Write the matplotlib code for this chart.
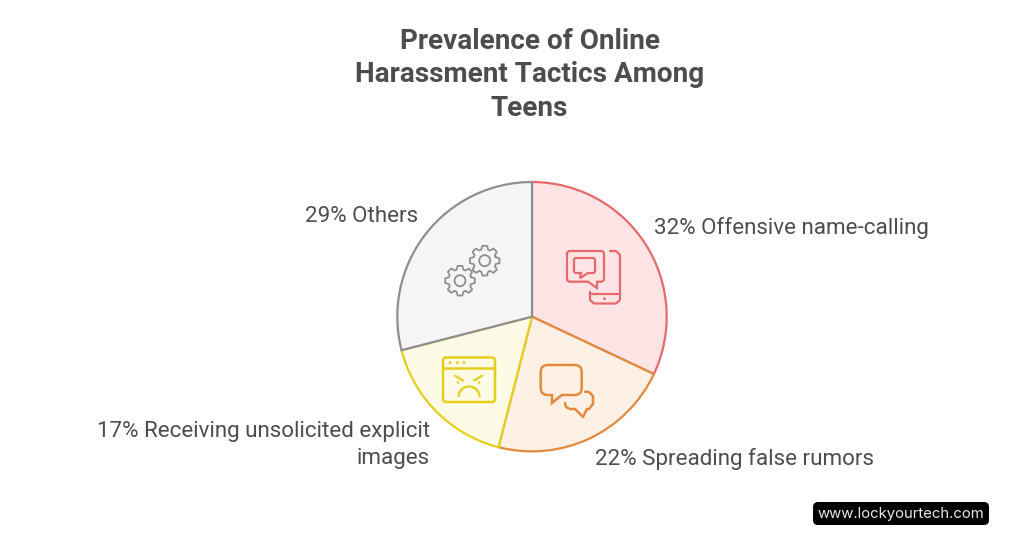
import matplotlib
matplotlib.use("Agg")
import matplotlib.pyplot as plt
from matplotlib.patches import FancyBboxPatch, Circle, Arc, PathPatch
from matplotlib.path import Path
import numpy as np

# Values
categories = ["Offensive name-calling", "Spreading false rumors",
              "Receiving unsolicited explicit\nimages", "Others"]
shares = [32, 22, 17, 29]
fills = ["#fee4e4", "#fdf0e4", "#fdfbe6", "#f5f5f5"]
edges = ["#e8696b", "#e38a3c", "#e6cf1c", "#8f8f8f"]
title = "Prevalence of Online\nHarassment Tactics Among\nTeens"
text_col = "#4d4d4d"

plt.rcParams["font.family"] = ["Roboto", "DejaVu Sans"]

W, H = 1024, 536
fig = plt.figure(figsize=(W / 100, H / 100), dpi=100)
ax = fig.add_axes([0, 0, 1, 1])


def Y(y):
    return H - y


wedges, _ = ax.pie(shares, center=(532, Y(316.7)), radius=134.7, startangle=90,
                   counterclock=False, colors=fills, frame=True)
for w, e in zip(wedges, edges):
    w.set_edgecolor(e)
    w.set_linewidth(1.6)
ax.set_xlim(0, W)
ax.set_ylim(0, H)
ax.axis("off")

ax.text(529.5, Y(75), title, ha="center", va="center", fontsize=20.1, fontweight="bold",
        color=text_col, linespacing=1.3)

# labels
label_spots = [(654, 228, "left"), (595, 459, "left"), (430, 445, "right"), (418, 217, "right")]
for (x, y, ha), share, cat in zip(label_spots, shares, categories):
    ax.text(x, Y(y), f"{share}% {cat}", ha=ha, va="center", fontsize=16.15,
            color=text_col, linespacing=1.4, multialignment=ha)


def rbox(x0, y0, x1, y1, r, color, lw=1.6, fc="none"):
    ax.add_patch(FancyBboxPatch((x0 + r, Y(y1) + r), x1 - x0 - 2 * r, y1 - y0 - 2 * r,
                                boxstyle=f"round,pad={r},rounding_size={r}",
                                fc=fc, ec=color, lw=lw))


def stroke(pts, color, lw=1.6):
    xs, ys = zip(*pts)
    ax.plot(xs, [Y(v) for v in ys], color=color, lw=lw, solid_capstyle="round",
            solid_joinstyle="round")


def bubble(x0, y0, x1, y1, r, tail, color, lw=1.6):
    # rounded speech bubble, tail = three points on the bottom edge
    verts = [(x0 + r, y0), (x1 - r, y0), (x1, y0), (x1, y0 + r), (x1, y1 - r), (x1, y1), (x1 - r, y1),
             tail[0], tail[1], tail[2], (x0 + r, y1), (x0, y1), (x0, y1 - r), (x0, y0 + r), (x0, y0), (x0 + r, y0)]
    codes = [Path.MOVETO, Path.LINETO, Path.CURVE3, Path.CURVE3, Path.LINETO, Path.CURVE3, Path.CURVE3,
             Path.LINETO, Path.LINETO, Path.LINETO, Path.LINETO, Path.CURVE3, Path.CURVE3, Path.LINETO,
             Path.CURVE3, Path.CURVE3]
    ax.add_patch(PathPatch(Path([(a, Y(b)) for a, b in verts], codes), fc="none", ec=color, lw=lw))


def gear(cx, cy, r_out, r_in, r_hole, color, teeth=8):
    pts = []
    step = 2 * np.pi / teeth
    for i in range(teeth):
        a = step * i
        for da, r in [(-0.39, r_in), (-0.2, r_out), (0.2, r_out), (0.39, r_in)]:
            t = a + da * step
            pts.append((cx + r * np.cos(t), cy + r * np.sin(t)))
    pts.append(pts[0])
    stroke(pts, color, lw=1.3)
    ax.add_patch(Circle((cx, Y(cy)), r_hole, fc="none", ec=color, lw=1.3))


# phone + chat icon
c = edges[0]
bubble(567, 251, 604, 281.7, 3, [(597, 281.7), (597, 288), (588, 281.7)], c)
bubble(574, 258, 595, 273, 2, [(588, 273), (580, 278), (581, 273)], c)
stroke([(610, 251), (616, 251), (620, 255), (620, 300), (616, 303.5), (594, 303.5), (590, 300), (590, 291.7)], c)
stroke([(590, 294), (620, 294)], c)
ax.add_patch(Circle((604.5, Y(298.7)), 1, fc=c, ec=c, lw=0.6))

# speech bubbles icon
c = edges[1]
bubble(540.7, 365, 581.7, 395, 7, [(561.7, 395), (552, 403), (552, 395)], c, lw=1.8)
stroke([(585, 391.7), (589, 392), (593, 396), (593, 404), (589, 409), (587, 409), (583, 417), (575, 409),
        (570, 409), (566, 407), (565, 403)], c, lw=1.8)

# angry window icon
c = edges[2]
rbox(443, 357.5, 495, 402, 3, c, lw=1.8)
stroke([(443, 368), (495, 368)], c, lw=1.8)
for x in (450, 457.3, 464):
    ax.add_patch(Circle((x, Y(362.7)), 1.1, fc=c, ec=c, lw=0.5))
stroke([(455, 375.7), (463, 380.5)], c)
stroke([(482, 375.7), (474, 380.5)], c)
ax.add_patch(Circle((458, Y(382.5)), 0.9, fc=c, ec=c, lw=0.5))
ax.add_patch(Circle((479, Y(382.5)), 0.9, fc=c, ec=c, lw=0.5))
ax.add_patch(Arc((469, Y(397)), 21, 21, theta1=0, theta2=180, ec=c, lw=1.6))

# gears icon
c = edges[3]
gear(460, 280.7, 15, 11.5, 5.5, c)
gear(484.7, 260.7, 15, 11.5, 5.5, c)

# site badge
rbox(813, 502, 989, 525, 5, "black", lw=0, fc="black")
ax.text(901, Y(514), "www.lockyourtech.com", ha="center", va="center", fontsize=10.7,
        color="#e8e8e8", family=["Inter", "DejaVu Sans"])

fig.savefig("out.png", dpi=100, facecolor="white")
